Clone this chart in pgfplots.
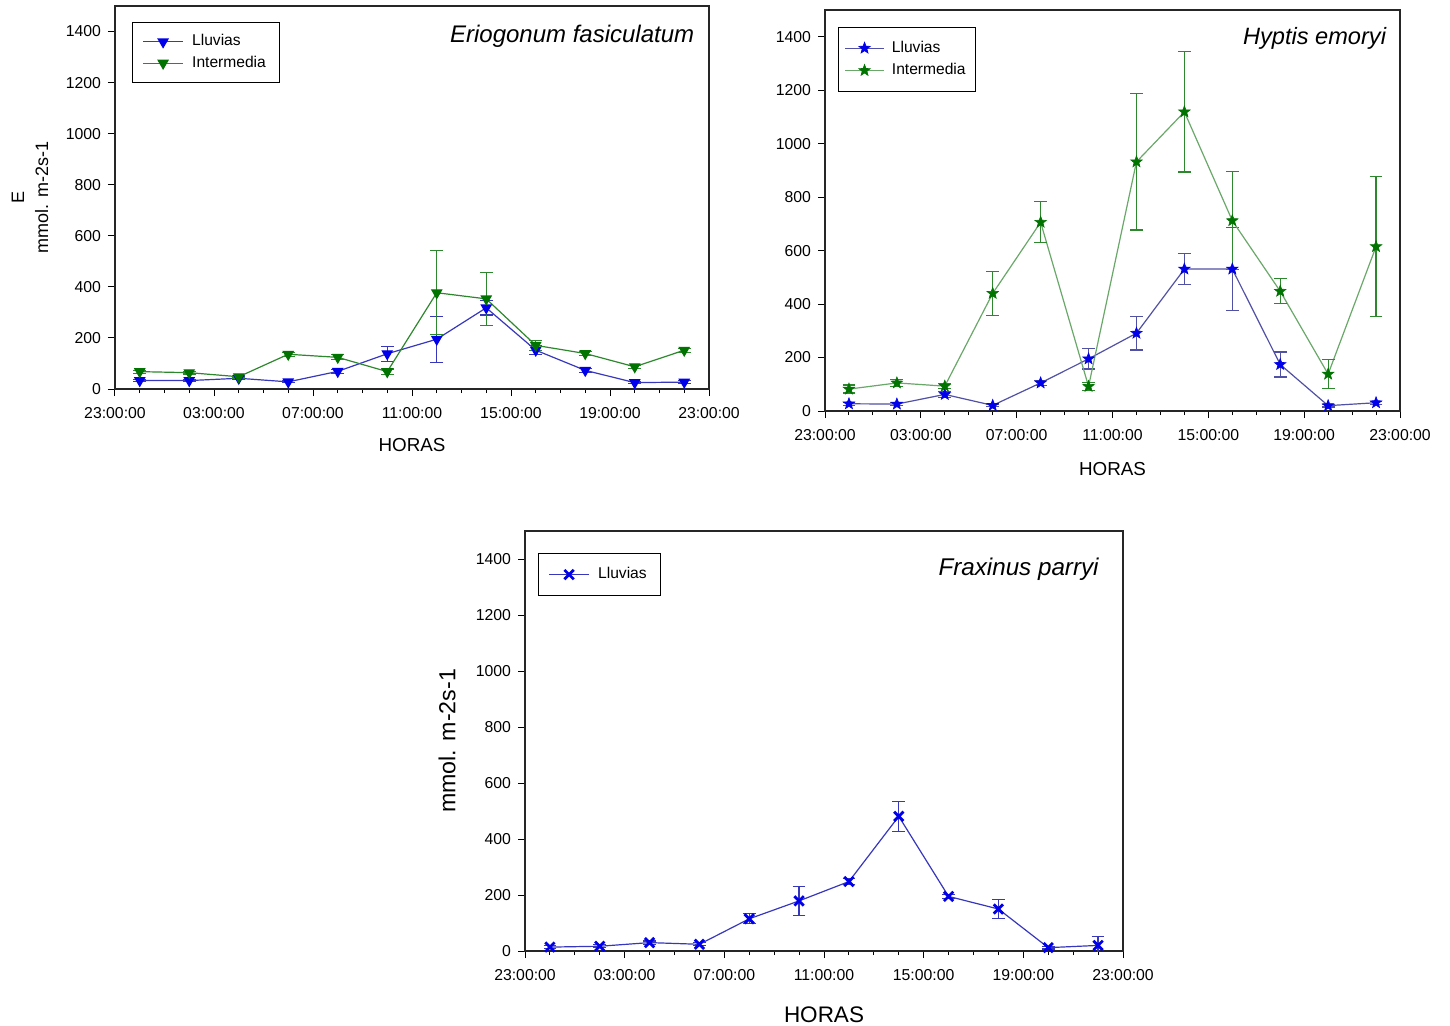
\documentclass[border=0pt]{standalone}
\usepackage{fontspec}
\setmainfont{Liberation Sans}
\usepackage{pgfplots}
\pgfplotsset{compat=1.18}

\definecolor{lineblue}{RGB}{55,55,190}
\definecolor{mkblue}{RGB}{0,0,235}
\definecolor{linegreen}{RGB}{45,135,45}
\definecolor{mkgreen}{RGB}{0,115,0}
\definecolor{hlineblue}{RGB}{80,80,165}
\definecolor{hlinegreen}{RGB}{105,168,105}

\pgfdeclareplotmark{fstar}{%
  \pgfpathmoveto{\pgfpointpolar{90}{\pgfplotmarksize}}%
  \pgfpathlineto{\pgfpointpolar{126}{0.42*\pgfplotmarksize}}%
  \pgfpathlineto{\pgfpointpolar{162}{\pgfplotmarksize}}%
  \pgfpathlineto{\pgfpointpolar{198}{0.42*\pgfplotmarksize}}%
  \pgfpathlineto{\pgfpointpolar{234}{\pgfplotmarksize}}%
  \pgfpathlineto{\pgfpointpolar{270}{0.42*\pgfplotmarksize}}%
  \pgfpathlineto{\pgfpointpolar{306}{\pgfplotmarksize}}%
  \pgfpathlineto{\pgfpointpolar{342}{0.42*\pgfplotmarksize}}%
  \pgfpathlineto{\pgfpointpolar{18}{\pgfplotmarksize}}%
  \pgfpathlineto{\pgfpointpolar{54}{0.42*\pgfplotmarksize}}%
  \pgfpathclose
  \pgfusepathqfillstroke
}

\pgfplotsset{
  base/.style={
    scale only axis,
    xmin=0, xmax=24, ymin=0, ymax=1500,
    xtick={0,4,...,24},
    xticklabels={23:00:00,03:00:00,07:00:00,11:00:00,15:00:00,19:00:00,23:00:00},
    minor x tick num=3,
    ytick={0,200,...,1400},
    tick align=outside,
    xtick pos=left, ytick pos=left,
    major tick length=3.5pt, minor tick length=2pt,
    every tick/.style={black, line width=0.5pt},
    axis line style={line width=0.6pt, black!85},
    tick label style={font=\fontsize{7.9}{9}\selectfont},
    xticklabel style={yshift=-2pt},
    /pgf/number format/assume math mode=true,
    /pgf/number format/1000 sep={},
    legend style={font=\fontsize{7.8}{8.5}\selectfont, draw=black, line width=0.6pt,
      anchor=north west, legend cell align=left, inner xsep=5pt, inner ysep=4pt, row sep=-0.5pt},
    legend image code/.code={\draw[mark repeat=2, mark phase=2] plot coordinates {(0cm,0cm)(0.35cm,0cm)(0.7cm,0cm)};\path (0.78cm,0cm);},
    xlabel={HORAS},
  },
  ebar/.style={error bars/.cd, y dir=both, y explicit,
    error bar style={#1, line width=0.6pt},
    error mark options={rotate=90, #1, mark size=3.2pt, line width=0.6pt}},
}

\begin{document}
\begin{tikzpicture}
\useasboundingbox (0,0) rectangle (725pt,512.5pt);

% ---------------- Eriogonum fasiculatum ----------------
\begin{axis}[base,
  at={(57.5pt,318pt)}, anchor=south west,
  width=297pt, height=191.5pt,
  ylabel={E\\mmol. m-2s-1},
  ylabel style={at={(axis description cs:-0.1431,0.5)}, anchor=center, align=center, font=\fontsize{9}{12}\selectfont},
  xlabel style={at={(axis description cs:0.5,0)}, anchor=center, yshift=-28pt, font=\fontsize{9.4}{11}\selectfont},
  legend style={at={(0.0286,0.958)}},
]
\addplot[color=lineblue, line width=0.6pt, mark=triangle*, mark size=2.8pt,
  mark options={rotate=180, fill=mkblue, draw=mkblue, solid}, ebar=lineblue]
table[x=x, y=y, y error=e] {
x y e
1 33 5
3 33 5
5 42 5
7 28 4
9 69 8
11 138 29
13 195 90
15 318 28
17 152 18
19 73 8
21 25 5
23 27 5
};
\addlegendentry{Lluvias}
\addplot[color=linegreen, line width=0.6pt, mark=triangle*, mark size=2.8pt,
  mark options={rotate=180, fill=mkgreen, draw=mkgreen, solid}, ebar=linegreen]
table[x=x, y=y, y error=e] {
x y e
1 68 6
3 64 5
5 48 5
7 136 8
9 124 10
11 68 10
13 377 164
15 353 104
17 171 20
19 139 8
21 87 6
23 152 8
};
\addlegendentry{Intermedia}
\node[anchor=east, font=\fontsize{12}{13}\selectfont\itshape] at (rel axis cs:0.987,0.92) {Eriogonum fasiculatum};
\end{axis}

% ---------------- Hyptis emoryi ----------------
\begin{axis}[base,
  at={(412.5pt,307pt)}, anchor=south west,
  width=287.5pt, height=200.5pt,
  xlabel style={at={(axis description cs:0.5,0)}, anchor=center, yshift=-29pt, font=\fontsize{9.4}{11}\selectfont},
  legend style={at={(0.0226,0.958)}, inner xsep=3pt, inner ysep=4.8pt, row sep=0pt},
  legend image code/.code={\draw[mark repeat=2, mark phase=2] plot coordinates {(0cm,0cm)(0.34cm,0cm)(0.68cm,0cm)};\path (0.74cm,0cm);},
]
\addplot[color=hlineblue, line width=0.6pt, mark=fstar, mark size=3pt,
  mark options={fill=mkblue, draw=mkblue, solid, line width=0.3pt}, ebar=hlineblue]
table[x=x, y=y, y error=e] {
x y e
1 27 6
3 26 6
5 62 10
7 21 5
9 105 10
11 195 38
13 291 63
15 531 57
17 531 155
19 174 47
21 20 5
23 31 6
};
\addlegendentry{Lluvias}
\addplot[color=hlinegreen, line width=0.6pt, mark=fstar, mark size=3pt,
  mark options={fill=mkgreen, draw=mkgreen, solid, line width=0.3pt}, ebar=linegreen]
table[x=x, y=y, y error=e] {
x y e
1 82 15
3 105 14
5 93 10
7 440 82
9 706 77
11 92 16
13 932 255
15 1119 225
17 712 183
19 448 47
21 138 55
23 615 262
};
\addlegendentry{Intermedia}
\node[anchor=east, font=\fontsize{11.8}{13}\selectfont\itshape] at (rel axis cs:0.988,0.93) {Hyptis emoryi};
\end{axis}

% ---------------- Fraxinus parryi ----------------
\begin{axis}[base,
  at={(262.5pt,37pt)}, anchor=south west,
  width=299pt, height=210pt,
  ylabel={mmol. m-2s-1},
  ylabel style={at={(axis description cs:-0.1304,0.5)}, anchor=center, font=\fontsize{11.6}{13}\selectfont},
  xlabel style={at={(axis description cs:0.5,0)}, anchor=center, yshift=-32pt, font=\fontsize{11.25}{13}\selectfont},
  legend style={at={(0.0217,0.948)}, inner ysep=5pt},
]
\addplot[color=lineblue, line width=0.6pt, mark=x, mark size=3.3pt,
  mark options={draw=mkblue, solid, line width=1.4pt}, ebar=lineblue]
table[x=x, y=y, y error=e] {
x y e
1 14 5
3 17 5
5 30 6
7 24 5
9 115 18
11 179 51
13 248 10
15 481 53
17 195 8
19 150 33
21 12 5
23 20 31
};
\addlegendentry{Lluvias}
\node[anchor=east, font=\fontsize{12.1}{13}\selectfont\itshape] at (rel axis cs:0.971,0.91) {Fraxinus parryi};
\end{axis}
\end{tikzpicture}
\end{document}
